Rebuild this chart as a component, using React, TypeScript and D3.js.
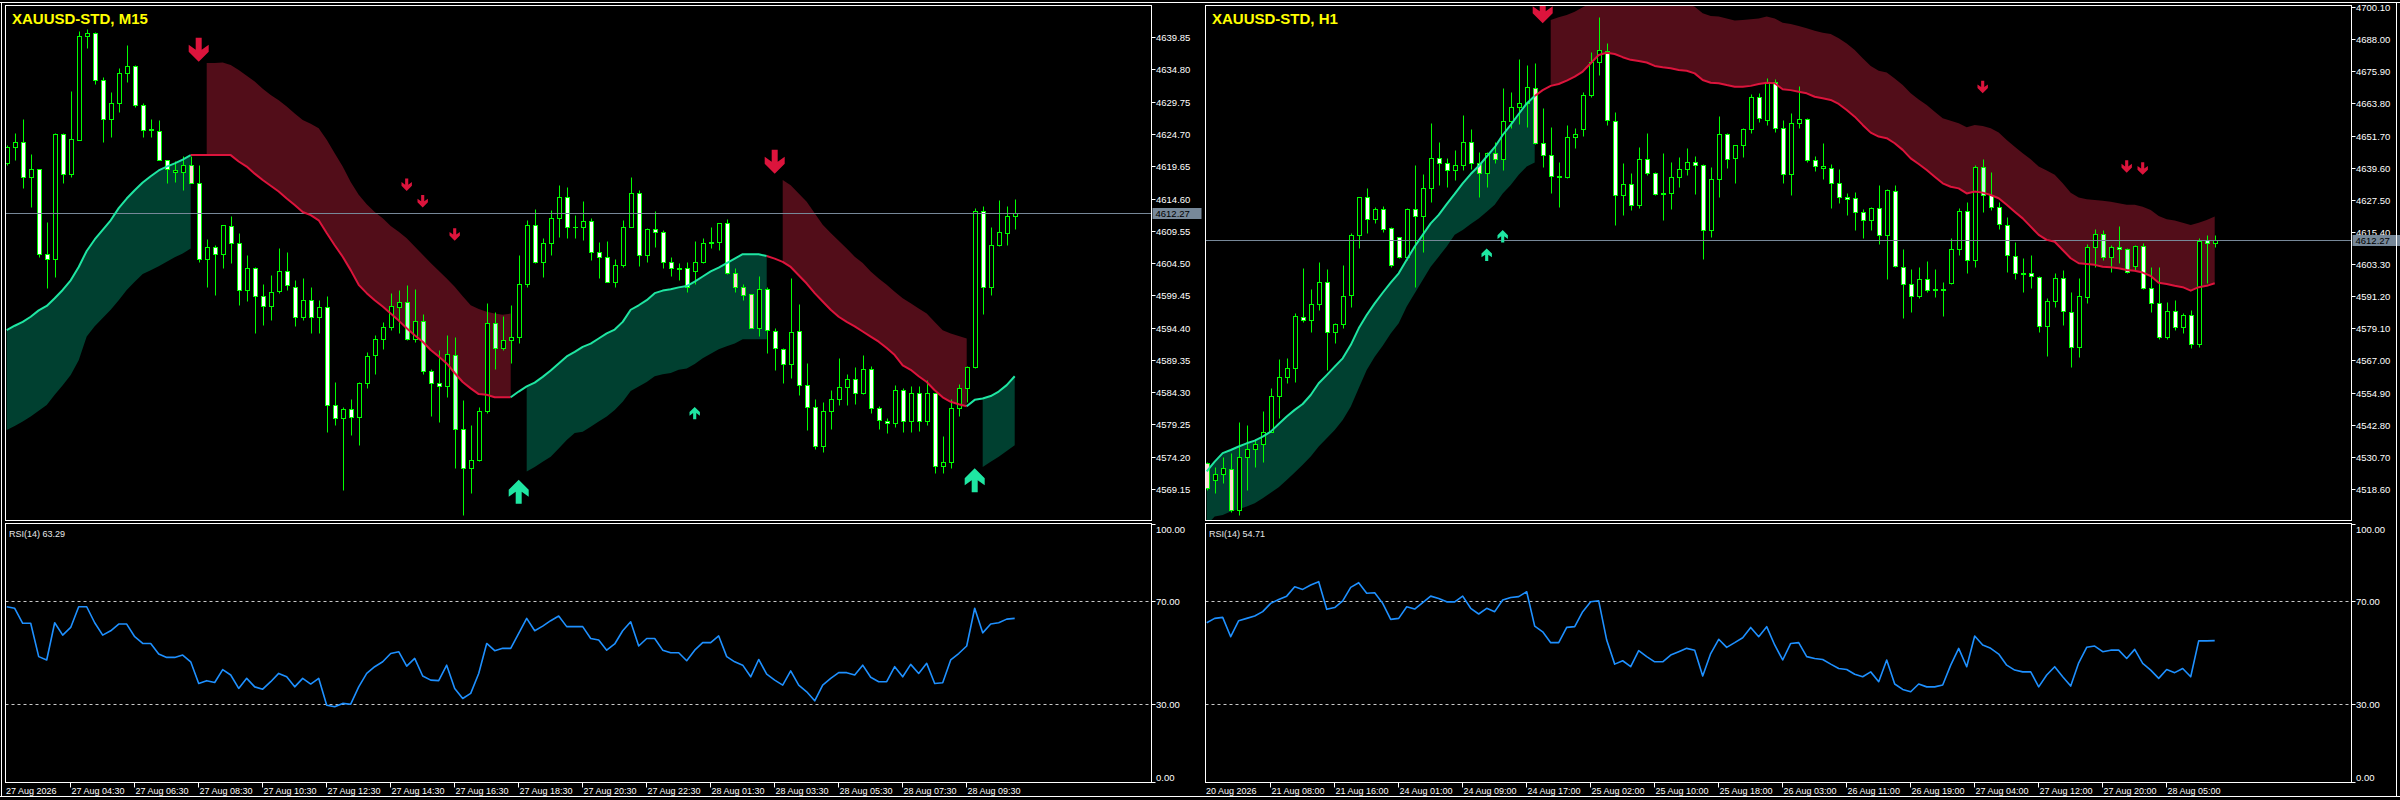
import React from "react";
import * as d3 from "d3";

// ---------- M15 window ----------
const m15Title = "XAUUSD-STD, M15";
// [open, high, low, close]
const m15Candles: [number, number, number, number][] = [
  [4620.1, 4623.0, 4619.9, 4622.7], [4622.6, 4624.8, 4620.6, 4623.5], [4623.5, 4627.0, 4616.2, 4617.9], [4617.9, 4621.6, 4613.3, 4619.2],
  [4619.2, 4619.3, 4605.4, 4606.0], [4606.0, 4611.0, 4600.6, 4605.1], [4605.1, 4624.8, 4602.4, 4624.7], [4624.7, 4624.8, 4617.0, 4618.5],
  [4618.5, 4631.5, 4618.0, 4623.9], [4623.8, 4640.8, 4623.7, 4640.0], [4640.0, 4641.1, 4638.1, 4640.5], [4640.5, 4640.7, 4632.6, 4633.1],
  [4633.1, 4633.7, 4623.5, 4627.1], [4627.1, 4631.2, 4624.2, 4629.5], [4629.5, 4635.0, 4628.2, 4634.2], [4634.2, 4638.6, 4632.9, 4635.3],
  [4635.3, 4635.5, 4629.0, 4629.2], [4629.2, 4629.5, 4624.3, 4625.4], [4625.3, 4627.1, 4624.3, 4625.5], [4625.2, 4626.9, 4620.6, 4620.7],
  [4620.6, 4620.7, 4617.1, 4619.3], [4618.8, 4620.4, 4617.2, 4619.0], [4618.7, 4621.2, 4615.9, 4619.9], [4619.9, 4621.2, 4617.0, 4617.1],
  [4617.1, 4619.9, 4604.7, 4605.2], [4605.2, 4608.2, 4600.8, 4607.0], [4607.0, 4607.3, 4599.5, 4605.9], [4605.9, 4610.5, 4603.7, 4610.4],
  [4610.3, 4611.8, 4604.5, 4607.6], [4607.6, 4609.2, 4597.9, 4600.3], [4600.3, 4605.8, 4598.5, 4603.8], [4603.8, 4603.9, 4593.5, 4599.4],
  [4599.4, 4601.3, 4594.8, 4597.8], [4597.8, 4602.6, 4595.6, 4600.0], [4600.2, 4606.8, 4599.8, 4603.2], [4603.2, 4606.3, 4600.3, 4601.1],
  [4600.8, 4601.9, 4594.6, 4596.1], [4596.0, 4602.1, 4595.6, 4598.8], [4598.8, 4600.7, 4593.5, 4596.0], [4596.0, 4598.7, 4593.5, 4597.7],
  [4597.7, 4599.3, 4578.1, 4582.3], [4582.3, 4585.9, 4579.2, 4580.2], [4580.2, 4582.0, 4569.0, 4581.6], [4581.6, 4583.3, 4577.6, 4580.4],
  [4580.4, 4585.9, 4576.0, 4585.7], [4585.7, 4590.6, 4584.9, 4589.9], [4590.1, 4593.3, 4587.2, 4592.6], [4592.6, 4595.3, 4591.0, 4594.5],
  [4594.5, 4599.8, 4594.0, 4597.8], [4597.6, 4600.3, 4593.5, 4598.4], [4598.4, 4601.1, 4592.5, 4592.7], [4592.7, 4600.5, 4592.2, 4595.5],
  [4595.5, 4596.6, 4587.2, 4587.6], [4587.6, 4588.0, 4580.5, 4585.8], [4585.8, 4590.9, 4579.7, 4585.3], [4585.2, 4593.3, 4583.6, 4590.2],
  [4590.1, 4593.0, 4572.4, 4578.6], [4578.6, 4583.1, 4565.1, 4572.4], [4572.4, 4579.2, 4568.5, 4573.7], [4573.7, 4582.0, 4573.6, 4581.3],
  [4581.3, 4598.2, 4581.0, 4595.2], [4595.2, 4596.9, 4588.0, 4591.2], [4591.2, 4596.2, 4590.9, 4592.5], [4592.5, 4597.9, 4588.8, 4592.9],
  [4592.9, 4605.8, 4592.0, 4601.2], [4601.2, 4611.2, 4600.8, 4610.4], [4610.4, 4613.0, 4604.5, 4604.6], [4604.6, 4608.4, 4602.4, 4607.6],
  [4607.6, 4612.8, 4605.8, 4611.5], [4611.5, 4616.7, 4608.6, 4614.9], [4614.8, 4616.4, 4608.5, 4610.1], [4610.1, 4612.0, 4608.4, 4610.2],
  [4610.2, 4614.2, 4608.1, 4611.1], [4611.1, 4611.5, 4605.0, 4606.3], [4606.3, 4607.8, 4602.1, 4605.5], [4605.5, 4608.0, 4601.5, 4601.6],
  [4601.6, 4605.1, 4600.8, 4604.2], [4604.2, 4611.2, 4603.9, 4610.2], [4610.2, 4617.9, 4610.1, 4615.5], [4615.5, 4616.0, 4604.0, 4605.7],
  [4605.7, 4610.0, 4604.7, 4609.8], [4609.8, 4612.7, 4607.0, 4609.3], [4609.3, 4609.7, 4603.7, 4604.7], [4604.7, 4605.4, 4602.5, 4603.7],
  [4603.7, 4604.5, 4601.9, 4603.5], [4603.7, 4604.6, 4599.9, 4600.7], [4603.2, 4608.0, 4601.3, 4604.7], [4604.7, 4608.4, 4604.5, 4607.6],
  [4607.6, 4610.1, 4606.8, 4607.8], [4607.8, 4610.8, 4606.6, 4610.7], [4610.7, 4611.4, 4602.8, 4602.9], [4602.9, 4603.7, 4600.0, 4600.8],
  [4600.8, 4601.2, 4598.7, 4599.5], [4599.6, 4599.7, 4594.3, 4594.4], [4594.4, 4602.5, 4593.1, 4600.5], [4600.5, 4600.7, 4590.5, 4594.0],
  [4593.9, 4594.3, 4587.8, 4591.2], [4591.0, 4591.2, 4585.7, 4588.7], [4588.7, 4602.1, 4586.5, 4593.7], [4593.8, 4598.1, 4583.9, 4585.5],
  [4585.5, 4588.9, 4578.4, 4582.0], [4582.0, 4583.2, 4575.4, 4575.9], [4575.9, 4582.7, 4575.0, 4581.3], [4581.3, 4584.7, 4578.6, 4583.3],
  [4583.3, 4589.6, 4582.3, 4585.1], [4585.1, 4587.2, 4582.3, 4586.3], [4586.3, 4588.3, 4582.5, 4584.1], [4584.1, 4590.1, 4584.0, 4587.9],
  [4587.9, 4588.4, 4581.0, 4581.9], [4581.9, 4582.1, 4578.6, 4579.9], [4579.8, 4580.3, 4577.9, 4579.4], [4579.4, 4585.4, 4578.8, 4584.7],
  [4584.7, 4584.9, 4578.1, 4579.8], [4579.8, 4585.3, 4578.1, 4584.2], [4584.2, 4585.3, 4578.3, 4579.8], [4579.8, 4586.2, 4579.2, 4584.1],
  [4584.1, 4584.2, 4571.6, 4572.7], [4572.7, 4577.4, 4571.7, 4573.3], [4573.3, 4583.3, 4572.4, 4581.8], [4581.8, 4585.6, 4580.6, 4584.9],
  [4584.9, 4588.4, 4582.8, 4588.2], [4588.2, 4613.2, 4588.1, 4612.6], [4612.6, 4613.4, 4596.6, 4600.7], [4600.7, 4610.1, 4599.5, 4607.4],
  [4607.4, 4614.4, 4607.1, 4609.3], [4609.2, 4613.4, 4607.3, 4611.9], [4611.8, 4614.5, 4609.8, 4612.3],
];
const m15PinkBodies = [23, 91, 92, 93];
const m15CyanBodies = [50, 52, 56, 61];

const m15TrendLine = [
  4594.0, 4594.7, 4595.3, 4596.1, 4597.1, 4597.8, 4599.0, 4600.3, 4601.8, 4603.9, 4606.4, 4608.2, 4609.7, 4611.2, 4613.1, 4614.6,
  4615.9, 4617.1, 4618.1, 4619.0, 4619.6, 4620.1, 4620.7, 4621.4,
  4621.4, 4621.4, 4621.4, 4621.4, 4621.4, 4620.4, 4619.6, 4618.5, 4617.5, 4616.6, 4615.7, 4614.6, 4613.6, 4612.5, 4612.0, 4611.2,
  4609.2, 4607.3, 4605.5, 4603.4, 4601.1, 4599.8, 4598.7, 4597.7, 4596.6, 4595.5, 4594.3, 4593.2, 4592.2, 4590.9, 4589.9, 4588.8,
  4587.3, 4585.9, 4584.9, 4584.0, 4583.9, 4583.5, 4583.5, 4583.5,
  4584.4, 4585.2, 4585.8, 4586.7, 4587.7, 4588.8, 4589.9, 4590.6, 4591.4, 4591.9, 4592.7, 4593.5, 4594.1, 4595.3, 4597.2, 4597.9,
  4598.7, 4599.8, 4600.2, 4600.4, 4600.7, 4600.9, 4601.6, 4602.4, 4603.2, 4603.8, 4604.5, 4605.2, 4605.9, 4605.9, 4605.9, 4605.6,
  4605.2, 4604.7, 4603.9, 4602.6, 4601.3, 4599.8, 4598.5, 4597.2, 4596.1, 4595.3, 4594.6, 4593.8, 4593.0, 4592.2, 4591.2, 4590.1,
  4588.5, 4587.8, 4586.8, 4585.9, 4584.6, 4583.5, 4582.8, 4582.4, 4582.1,
  4583.1, 4583.3, 4583.7, 4584.4, 4585.4, 4586.8,
];
// trend direction: 1 = up (green), -1 = down (red), starting at bar "from"
const m15TrendFlips = [
  { from: 0, dir: 1 }, { from: 24, dir: -1 }, { from: 64, dir: 1 }, { from: 96, dir: -1 }, { from: 121, dir: 1 },
];
const m15LowerBand = [
  { from: 0, values: [4578.4, 4579.0, 4579.7, 4580.5, 4581.4, 4582.3, 4583.9, 4585.4, 4587.0, 4589.3, 4593.0, 4594.6, 4595.9, 4597.2, 4598.7, 4600.3, 4601.6, 4602.8, 4603.4, 4604.0, 4604.7, 4605.4, 4606.0, 4606.8] },
  { from: 65, values: [4571.9, 4572.6, 4573.4, 4574.2, 4575.5, 4576.8, 4577.9, 4578.1, 4578.9, 4579.7, 4580.5, 4581.5, 4582.8, 4584.5, 4585.2, 4585.9, 4586.8, 4587.1, 4587.3, 4587.8, 4588.0, 4588.7, 4589.6, 4590.3, 4591.0, 4591.5, 4591.9, 4592.6, 4592.6, 4592.6, 4592.6] },
  { from: 122, values: [4572.6, 4573.4, 4574.2, 4575.1, 4576.0] },
];
const m15UpperBand = [
  { from: 25, values: [4635.8, 4635.8, 4635.9, 4635.5, 4634.7, 4633.8, 4632.9, 4631.8, 4630.8, 4630.0, 4629.0, 4627.9, 4626.9, 4626.3, 4625.6, 4623.8, 4621.7, 4619.6, 4617.2, 4615.2, 4613.7, 4612.5, 4611.5, 4610.3, 4609.4, 4608.4, 4607.1, 4605.8, 4604.5, 4603.3, 4602.1, 4600.8, 4599.3, 4597.9, 4597.3, 4596.9, 4596.6, 4596.4, 4596.6] },
  { from: 97, values: [4617.5, 4616.7, 4615.4, 4614.1, 4612.3, 4610.5, 4609.2, 4608.0, 4606.8, 4605.5, 4604.5, 4603.2, 4602.1, 4601.1, 4600.0, 4599.0, 4598.2, 4597.4, 4596.6, 4595.3, 4594.0, 4593.5, 4593.1, 4592.7] },
];
const m15Arrows = [
  { i: 24, price: 4636.0, dir: -1, big: true }, { i: 64, price: 4570.6, dir: 1, big: true },
  { i: 96, price: 4618.5, dir: -1, big: true }, { i: 121, price: 4572.4, dir: 1, big: true },
  { i: 50, price: 4615.8, dir: -1, big: false }, { i: 52, price: 4613.2, dir: -1, big: false },
  { i: 56, price: 4608.0, dir: -1, big: false }, { i: 86, price: 4582.0, dir: 1, big: false },
];
const m15Rsi = [
  67.8, 67.2, 61.4, 61.4, 48.5, 47.2, 61.6, 56.8, 59.8, 67.8,
  67.8, 61.6, 56.8, 58.5, 61.1, 61.1, 56.2, 53.6, 53.6, 49.5,
  48.2, 48.2, 49.1, 46.5, 38.1, 39.2, 38.5, 43.5, 41.4, 36.2,
  40.1, 36.8, 35.9, 38.8, 42.0, 40.7, 36.8, 40.1, 37.9, 40.1,
  29.7, 29.1, 30.4, 30.1, 36.8, 42.0, 44.6, 46.5, 49.7, 50.4,
  44.8, 47.8, 41.0, 39.4, 39.2, 45.2, 36.2, 32.3, 34.3, 42.0,
  53.6, 50.8, 51.7, 51.7, 57.5, 63.3, 58.5, 60.3, 62.4, 64.2,
  60.1, 60.1, 60.1, 55.5, 54.9, 51.0, 53.4, 58.5, 62.0, 52.6,
  55.5, 55.5, 51.0, 50.0, 50.0, 46.9, 51.0, 53.9, 53.9, 56.5,
  48.5, 46.5, 45.2, 40.7, 47.4, 41.7, 39.4, 37.5, 43.0, 37.5,
  34.9, 31.4, 37.5, 40.1, 42.3, 42.3, 41.4, 45.2, 40.5, 38.8,
  38.8, 44.6, 40.7, 45.5, 42.0, 45.9, 38.1, 38.4, 47.2, 49.7,
  52.6, 67.2, 57.7, 61.1, 61.6, 63.0, 63.3,
];
const m15RsiLabel = "RSI(14) 63.29";
const m15PriceTicks = [4639.85, 4634.80, 4629.75, 4624.70, 4619.65, 4614.60, 4609.55, 4604.50, 4599.45, 4594.40, 4589.35, 4584.30, 4579.25, 4574.20, 4569.15];
const m15TimeLabels = [
  "27 Aug 2026", "27 Aug 04:30", "27 Aug 06:30", "27 Aug 08:30", "27 Aug 10:30", "27 Aug 12:30", "27 Aug 14:30", "27 Aug 16:30",
  "27 Aug 18:30", "27 Aug 20:30", "27 Aug 22:30", "28 Aug 01:30", "28 Aug 03:30", "28 Aug 05:30", "28 Aug 07:30", "28 Aug 09:30",
];

// ---------- H1 window ----------
const h1Title = "XAUUSD-STD, H1";
const h1Candles: [number, number, number, number][] = [
  [4528.3, 4528.9, 4518.3, 4518.9], [4522.0, 4527.0, 4517.0, 4524.3], [4524.3, 4530.8, 4520.8, 4526.4], [4526.0, 4532.1, 4510.1, 4510.7],
  [4510.7, 4544.0, 4508.8, 4530.6], [4530.6, 4542.7, 4518.3, 4533.6], [4533.6, 4537.3, 4527.0, 4535.6], [4535.6, 4548.1, 4528.9, 4540.2],
  [4540.2, 4556.5, 4540.1, 4553.6], [4553.6, 4567.5, 4545.2, 4560.7], [4560.7, 4567.8, 4558.4, 4564.1], [4564.1, 4584.8, 4559.0, 4583.8],
  [4583.5, 4601.7, 4581.6, 4582.3], [4582.3, 4593.8, 4577.9, 4588.2], [4588.2, 4604.2, 4586.0, 4596.7], [4596.7, 4601.3, 4563.4, 4577.9],
  [4577.9, 4581.0, 4573.5, 4580.6], [4580.6, 4603.0, 4579.1, 4591.3], [4591.7, 4614.9, 4587.3, 4614.3], [4614.3, 4628.7, 4609.2, 4628.4],
  [4628.4, 4631.8, 4614.9, 4620.2], [4620.2, 4624.9, 4618.9, 4623.9], [4623.9, 4625.2, 4615.5, 4616.4], [4616.8, 4617.4, 4602.3, 4603.0],
  [4613.4, 4613.5, 4605.5, 4605.9], [4605.9, 4624.3, 4604.9, 4623.9], [4623.9, 4640.6, 4594.8, 4621.4], [4621.4, 4637.2, 4608.0, 4631.8],
  [4631.8, 4656.3, 4626.8, 4643.1], [4643.1, 4649.4, 4633.1, 4641.2], [4641.2, 4643.1, 4632.4, 4638.7], [4638.7, 4646.3, 4635.0, 4640.6],
  [4640.6, 4659.4, 4638.7, 4649.4], [4649.4, 4654.0, 4639.0, 4641.5], [4641.5, 4645.6, 4628.7, 4637.7], [4637.5, 4645.6, 4632.4, 4645.3],
  [4645.3, 4649.4, 4641.2, 4642.8], [4642.8, 4669.5, 4638.7, 4657.3], [4657.3, 4668.2, 4654.4, 4662.3], [4662.3, 4680.4, 4656.1, 4664.1],
  [4664.1, 4678.3, 4655.0, 4669.9], [4669.5, 4679.1, 4648.6, 4648.8], [4648.8, 4661.9, 4640.0, 4644.4], [4644.4, 4655.0, 4629.9, 4636.5],
  [4636.5, 4641.9, 4624.7, 4636.2], [4636.0, 4655.7, 4635.6, 4651.3], [4651.3, 4654.4, 4646.9, 4652.3], [4654.0, 4668.2, 4651.5, 4667.0],
  [4667.0, 4683.3, 4666.3, 4679.5], [4679.3, 4696.5, 4674.5, 4683.9], [4683.7, 4686.4, 4655.7, 4657.6], [4657.3, 4660.7, 4618.0, 4629.3],
  [4629.3, 4641.2, 4621.8, 4633.5], [4633.5, 4637.5, 4623.7, 4625.6], [4625.6, 4647.5, 4624.3, 4642.8], [4642.8, 4652.8, 4636.9, 4637.7],
  [4637.7, 4638.1, 4629.3, 4629.7], [4629.7, 4645.0, 4619.9, 4629.9], [4629.9, 4641.9, 4623.9, 4636.0], [4636.0, 4643.8, 4632.4, 4639.0],
  [4639.0, 4646.9, 4636.9, 4641.9], [4641.9, 4644.0, 4629.7, 4640.6], [4640.6, 4641.0, 4605.1, 4616.1], [4616.1, 4639.7, 4613.4, 4635.2],
  [4635.2, 4659.1, 4628.7, 4652.2], [4652.2, 4652.8, 4639.4, 4642.8], [4643.1, 4648.3, 4633.7, 4648.2], [4648.2, 4654.4, 4643.8, 4654.0],
  [4654.0, 4667.4, 4652.8, 4666.3], [4666.3, 4667.6, 4656.9, 4658.2], [4657.6, 4673.2, 4655.7, 4672.0], [4672.0, 4672.9, 4653.2, 4654.4],
  [4654.4, 4657.6, 4634.0, 4637.2], [4637.2, 4660.3, 4629.3, 4656.6], [4656.6, 4670.4, 4654.4, 4657.8], [4657.8, 4658.2, 4641.9, 4642.5],
  [4642.3, 4644.0, 4638.5, 4640.2], [4639.4, 4649.0, 4635.2, 4640.2], [4639.4, 4641.0, 4624.3, 4633.7], [4633.7, 4639.0, 4626.2, 4628.4],
  [4628.4, 4630.2, 4621.8, 4627.7], [4628.1, 4630.6, 4616.1, 4622.9], [4622.9, 4623.9, 4613.0, 4619.9], [4619.9, 4624.7, 4616.1, 4624.3],
  [4624.3, 4633.1, 4610.9, 4614.3], [4614.3, 4631.5, 4597.6, 4631.2], [4631.0, 4633.1, 4602.3, 4602.6], [4602.3, 4608.9, 4582.9, 4595.8],
  [4595.7, 4601.3, 4585.4, 4591.3], [4591.3, 4602.3, 4590.4, 4597.6], [4597.6, 4604.5, 4592.6, 4593.6], [4593.6, 4601.3, 4590.8, 4593.8],
  [4593.8, 4596.7, 4583.8, 4593.6], [4596.1, 4613.0, 4595.8, 4608.9], [4608.9, 4624.3, 4606.7, 4623.3], [4623.3, 4626.8, 4600.1, 4604.9],
  [4604.9, 4640.6, 4602.3, 4639.7], [4639.7, 4642.8, 4623.0, 4629.3], [4629.3, 4638.1, 4623.7, 4624.9], [4624.9, 4626.8, 4616.4, 4618.4],
  [4618.0, 4621.2, 4600.5, 4606.7], [4606.5, 4611.7, 4597.6, 4599.8], [4599.8, 4605.5, 4592.9, 4599.6], [4599.8, 4606.7, 4594.2, 4598.8],
  [4598.6, 4598.8, 4577.9, 4580.0], [4580.0, 4590.4, 4568.7, 4589.5], [4589.5, 4600.1, 4587.3, 4597.9], [4597.9, 4601.1, 4580.4, 4585.8],
  [4585.4, 4592.9, 4564.7, 4572.0], [4572.0, 4597.9, 4568.2, 4591.3], [4590.8, 4610.9, 4588.5, 4609.9], [4609.9, 4616.4, 4602.3, 4614.5],
  [4614.5, 4616.1, 4604.9, 4606.1], [4606.1, 4610.6, 4600.5, 4609.9], [4609.9, 4617.7, 4603.6, 4608.9], [4608.9, 4609.2, 4599.8, 4600.5],
  [4602.7, 4610.6, 4601.1, 4610.2], [4610.2, 4611.1, 4593.8, 4594.2], [4594.2, 4602.3, 4585.4, 4588.5], [4588.5, 4602.3, 4575.0, 4575.7],
  [4575.7, 4589.2, 4575.0, 4585.8], [4585.8, 4589.8, 4578.5, 4579.5], [4579.5, 4585.0, 4577.5, 4584.1], [4584.1, 4586.0, 4571.6, 4573.2],
  [4573.2, 4613.0, 4572.2, 4612.1], [4612.4, 4614.3, 4596.1, 4611.4], [4611.4, 4614.3, 4609.6, 4612.3],
];
const h1PinkBodies = [0, 3, 34, 36, 41];
const h1CyanBodies = [97, 112, 114, 115, 125];

const h1TrendLine = [
  4525.2, 4528.9, 4532.1, 4533.3, 4534.6, 4535.8, 4536.8, 4538.3, 4540.2, 4543.1, 4545.9, 4548.4, 4550.6, 4554.0, 4558.4, 4561.5,
  4564.7, 4567.8, 4572.8, 4579.1, 4584.1, 4588.5, 4592.5, 4596.3, 4599.8, 4604.9, 4609.9, 4614.3, 4618.6, 4621.8, 4625.9, 4629.7,
  4633.7, 4637.2, 4640.2, 4643.8, 4647.3, 4651.9, 4655.7, 4659.8, 4663.8, 4666.6,
  4668.8, 4670.4, 4671.1, 4672.4, 4673.9, 4675.8, 4678.9, 4682.0, 4682.9, 4682.4, 4681.2, 4680.2, 4679.8, 4679.2, 4677.9, 4677.4,
  4677.0, 4676.4, 4676.1, 4675.1, 4672.6, 4671.6, 4671.4, 4670.7, 4670.1, 4670.1, 4670.4, 4671.1, 4671.6, 4671.4, 4669.1, 4668.8,
  4668.2, 4667.6, 4666.3, 4665.7, 4665.1, 4663.6, 4661.3, 4658.8, 4655.7, 4652.8, 4651.3, 4650.7, 4648.8, 4646.3, 4643.1, 4641.0,
  4638.7, 4636.2, 4633.7, 4632.4, 4631.8, 4629.9, 4630.6, 4630.2, 4629.3, 4628.1, 4625.6, 4623.0, 4620.5, 4617.4, 4614.3, 4612.4,
  4611.7, 4608.6, 4605.5, 4603.6, 4603.3, 4603.0, 4602.3, 4602.1, 4601.7, 4601.1, 4600.8, 4600.1, 4598.8, 4596.3, 4595.8, 4595.1,
  4594.6, 4593.3, 4594.6, 4595.1, 4596.1,
];
const h1TrendFlips = [{ from: 0, dir: 1 }, { from: 42, dir: -1 }];
const h1LowerBand = [
  { from: 0, values: [4505.1, 4508.2, 4508.8, 4510.1, 4511.0, 4512.0, 4513.2, 4515.1, 4517.2, 4519.3, 4522.0, 4524.8, 4527.7, 4530.8, 4534.6, 4537.7, 4540.8, 4544.6, 4549.6, 4556.5, 4563.4, 4568.4, 4572.5, 4577.2, 4581.0, 4587.3, 4592.3, 4597.3, 4602.3, 4606.1, 4609.9, 4614.3, 4616.1, 4618.4, 4620.5, 4623.0, 4625.6, 4629.9, 4633.1, 4636.9, 4640.0, 4641.5] },
];
const h1UpperBand = [
  { from: 43, values: [
    4695.2, 4696.2, 4697.1, 4698.3, 4700.0, 4701.5, 4702.7, 4703.7, 4704.0, 4704.3, 4704.3, 4704.0, 4703.7, 4703.4, 4703.0, 4702.7,
    4702.1, 4701.5, 4700.2, 4697.7, 4696.7, 4696.5, 4695.8, 4695.0, 4695.2, 4695.5, 4695.8, 4696.5, 4695.8, 4694.2, 4693.7, 4692.9,
    4692.1, 4691.2, 4690.4, 4689.9, 4688.3, 4686.4, 4683.9, 4680.8, 4677.9, 4676.1, 4675.4, 4673.2, 4670.7, 4667.6, 4665.3, 4663.2,
    4660.7, 4658.2, 4657.3, 4656.3, 4654.8, 4655.7, 4655.3, 4654.4, 4652.8, 4650.0, 4647.5, 4645.0, 4642.8, 4640.0, 4638.5, 4636.9,
    4633.7, 4630.2, 4628.4, 4627.7, 4627.4, 4627.1, 4626.8, 4626.2, 4625.6, 4625.6, 4624.9, 4623.7, 4621.4, 4620.2, 4619.7, 4618.9,
    4618.0, 4618.9, 4619.9, 4621.2,
  ] },
];
const h1Arrows = [
  { i: 42, price: 4694.0, dir: -1, big: true },
  { i: 35, price: 4609.2, dir: 1, big: false }, { i: 37, price: 4616.1, dir: 1, big: false },
  { i: 97, price: 4667.6, dir: -1, big: false }, { i: 115, price: 4637.7, dir: -1, big: false },
  { i: 117, price: 4636.9, dir: -1, big: false },
];
const h1Rsi = [
  61.6, 63.3, 63.7, 56.2, 62.4, 63.3, 64.2, 65.9, 69.1, 70.6,
  71.9, 75.5, 74.5, 76.2, 77.5, 66.8, 67.5, 70.1, 75.3, 77.1,
  73.0, 73.2, 69.1, 62.9, 63.3, 67.8, 66.9, 69.4, 71.9, 71.0,
  69.7, 69.7, 71.9, 67.2, 65.0, 67.2, 65.9, 70.4, 71.4, 71.7,
  73.6, 60.3, 58.1, 53.9, 53.9, 59.8, 60.1, 65.9, 69.7, 70.1,
  54.9, 45.6, 46.9, 44.6, 50.8, 48.5, 46.5, 46.5, 49.1, 50.4,
  51.7, 51.0, 41.0, 49.7, 55.2, 52.1, 53.9, 55.8, 59.8, 56.2,
  60.1, 53.0, 47.2, 53.6, 53.9, 48.5, 47.8, 47.4, 45.6, 43.9,
  43.5, 41.7, 40.7, 42.6, 38.8, 47.2, 37.9, 35.8, 34.9, 37.9,
  36.8, 36.8, 37.5, 45.2, 51.7, 44.6, 56.5, 53.0, 51.7, 49.5,
  45.2, 43.3, 42.6, 42.6, 36.8, 41.4, 44.6, 40.7, 37.1, 46.1,
  52.1, 52.6, 50.4, 51.0, 51.0, 47.8, 51.3, 45.9, 43.3, 40.1,
  43.5, 42.3, 43.9, 40.7, 54.6, 54.6, 54.7,
];
const h1RsiLabel = "RSI(14) 54.71";
const h1PriceTicks = [4700.10, 4688.00, 4675.90, 4663.80, 4651.70, 4639.60, 4627.50, 4615.40, 4603.30, 4591.20, 4579.10, 4567.00, 4554.90, 4542.80, 4530.70, 4518.60];
const h1TimeLabels = [
  "20 Aug 2026", "21 Aug 08:00", "21 Aug 16:00", "24 Aug 01:00", "24 Aug 09:00", "24 Aug 17:00", "25 Aug 02:00", "25 Aug 10:00",
  "25 Aug 18:00", "26 Aug 03:00", "26 Aug 11:00", "26 Aug 19:00", "27 Aug 04:00", "27 Aug 12:00", "27 Aug 20:00", "28 Aug 05:00",
];

const bidPrice = 4612.27;
const rsiLevels = [70, 30];
const rsiAxisTicks = [100, 70, 30, 0];

// ---------- layout ----------
const W = 2400;
const H = 800;
const CHART_L = 5.5;
const CHART_R = 1151.5;
const MAIN_T = 5.5;
const MAIN_B = 520.5;
const RSI_T = 523.5;
const RSI_B = 782.5;
const FONT = "'Liberation Sans', Arial, sans-serif";
const UP = "#1fe6a2";
const DOWN = "#dc143c";
const CANDLE = "#00ff00";

type Seg = { from: number; values: number[] };

function expand(segs: Seg[], n: number): (number | null)[] {
  const out: (number | null)[] = new Array(n).fill(null);
  segs.forEach((s) => s.values.forEach((v, k) => { out[s.from + k] = v; }));
  return out;
}

function trendOf(flips: { from: number; dir: number }[], n: number) {
  const out: number[] = [];
  for (let i = 0; i < n; i++) {
    let d = flips[0].dir;
    flips.forEach((f) => { if (i >= f.from) d = f.dir; });
    out.push(d);
  }
  return out;
}

// chevron arrow, tip at (0,0), pointing down
const ARROW_SHAPE = [[-3, -24], [3, -24], [3, -12], [10, -17], [10, -10], [0, 0], [-10, -10], [-10, -17], [-3, -12]];

function arrowPath(cx: number, cy: number, dir: number, s: number) {
  return "M" + ARROW_SHAPE.map(([px, py]) => `${cx + px * s},${cy + (dir < 0 ? py : -py) * s}`).join("L") + "Z";
}

type PanelProps = {
  id: string;
  offset: number;
  title: string;
  candles: [number, number, number, number][];
  pink: number[];
  cyan: number[];
  trendLine: number[];
  flips: { from: number; dir: number }[];
  lowerBand: Seg[];
  upperBand: Seg[];
  arrows: { i: number; price: number; dir: number; big: boolean }[];
  rsi: number[];
  rsiLabel: string;
  priceTicks: number[];
  topTickY: number;
  timeLabels: string[];
};

function Panel(p: PanelProps) {
  const n = p.candles.length;
  const x = d3.scaleLinear().domain([0, n - 1]).range([6.7, 6.7 + 8 * (n - 1)]);
  const [lo, hi] = d3.extent(p.priceTicks) as [number, number];
  const y = d3.scaleLinear().domain([lo, hi]).range([489, p.topTickY]);
  const yr = d3.scaleLinear().domain([0, 100]).range([RSI_B - 0.5, RSI_T]);

  const trend = trendOf(p.flips, n);
  const lower = expand(p.lowerBand, n);
  const upper = expand(p.upperBand, n);
  const idx = d3.range(n);

  const bandArea = (band: (number | null)[]) =>
    d3.area<number>()
      .defined((i) => band[i] != null)
      .x((i) => x(i))
      .y0((i) => y(p.trendLine[i]))
      .y1((i) => y(band[i] as number))(idx) || "";

  const runs: { dir: number; ids: number[] }[] = [];
  let s = 0;
  for (let i = 1; i <= n; i++) {
    if (i === n || trend[i] !== trend[s]) {
      runs.push({ dir: trend[s], ids: d3.range(Math.max(0, s - 1), i) });
      s = i;
    }
  }
  const lineGen = d3.line<number>().x((i) => x(i)).y((i) => y(p.trendLine[i]));
  const rsiLine = d3.line<number>().x((_, i) => x(i)).y((v) => yr(v));

  const bidY = Math.round(y(bidPrice)) + 0.5;
  const crisp = (v: number) => Math.round(v) + 0.5;

  return (
    <g transform={`translate(${p.offset},0)`}>
      <defs>
        <clipPath id={`${p.id}-main`}>
          <rect x={CHART_L} y={MAIN_T} width={CHART_R - CHART_L} height={MAIN_B - MAIN_T} />
        </clipPath>
        <clipPath id={`${p.id}-rsi`}>
          <rect x={CHART_L} y={RSI_T} width={CHART_R - CHART_L} height={RSI_B - RSI_T} />
        </clipPath>
      </defs>

      <g clipPath={`url(#${p.id}-main)`}>
        <path d={bandArea(lower)} fill="#004030" />
        <path d={bandArea(upper)} fill="#520d19" />

        {p.candles.map(([o, h, l, c], i) => {
          const cx = Math.round(x(i));
          const top = crisp(y(Math.max(o, c)));
          const bot = crisp(y(Math.min(o, c)));
          const fill = p.pink.includes(i) ? "#ffd6d6" : p.cyan.includes(i) ? "#c6f7df" : c >= o ? "#000000" : "#ffffff";
          return (
            <g key={i}>
              <line x1={cx + 0.5} x2={cx + 0.5} y1={crisp(y(h))} y2={crisp(y(l))} stroke={CANDLE} strokeWidth={1} />
              {bot - top >= 1 ? (
                <rect x={cx - 1.5} y={top} width={4} height={bot - top} fill={fill} stroke={CANDLE} strokeWidth={1} />
              ) : (
                <line x1={cx - 2} x2={cx + 3} y1={top} y2={top} stroke={CANDLE} strokeWidth={1} />
              )}
            </g>
          );
        })}

        <line x1={CHART_L} x2={CHART_R} y1={bidY} y2={bidY} stroke="#778899" strokeWidth={1} />

        {runs.map((r, k) => (
          <path key={k} d={lineGen(r.ids) || ""} fill="none" stroke={r.dir > 0 ? UP : DOWN} strokeWidth={2} strokeLinejoin="round" />
        ))}

        {p.arrows.map((a, k) => (
          <path key={k} d={arrowPath(x(a.i), y(a.price), a.dir, a.big ? 1 : 0.52)} fill={a.dir > 0 ? UP : DOWN} />
        ))}
      </g>

      <text x={12} y={24} fontFamily={FONT} fontWeight="bold" fontSize={15} fill="#ffff00">{p.title}</text>

      {/* price axis */}
      {p.priceTicks.map((t) => {
        const ty = crisp(y(t));
        return (
          <g key={t}>
            <line x1={CHART_R} x2={CHART_R + 4} y1={ty} y2={ty} stroke="#ffffff" strokeWidth={1} />
            <text x={CHART_R + 4.5} y={ty + 3.5} fontFamily={FONT} fontSize={9.5} fill="#ffffff">{t.toFixed(2)}</text>
          </g>
        );
      })}
      <rect x={CHART_R + 1} y={bidY - 5.5} width={49} height={11} fill="#778899" />
      <text x={CHART_R + 4} y={bidY + 3.5} fontFamily={FONT} fontSize={9.5} fill="#000000">{bidPrice.toFixed(2)}</text>

      {/* RSI window */}
      {rsiLevels.map((lv) => (
        <line key={lv} x1={CHART_L} x2={CHART_R} y1={crisp(yr(lv))} y2={crisp(yr(lv))} stroke="#c8c8c8" strokeWidth={1} strokeDasharray="3 3" />
      ))}
      <g clipPath={`url(#${p.id}-rsi)`}>
        <path d={rsiLine(p.rsi) || ""} fill="none" stroke="#1e90ff" strokeWidth={1.6} strokeLinejoin="round" />
      </g>
      <text x={9} y={537} fontFamily={FONT} fontSize={9} fill="#e8e8e8">{p.rsiLabel}</text>
      {rsiAxisTicks.map((t) => {
        const ty = crisp(yr(t));
        const ly = t === 100 ? ty + 8 : t === 0 ? ty - 2 : ty + 3.5;
        return (
          <g key={t}>
            <line x1={CHART_R} x2={CHART_R + 4} y1={ty} y2={ty} stroke="#ffffff" strokeWidth={1} />
            <text x={CHART_R + 4.5} y={ly} fontFamily={FONT} fontSize={9.5} fill="#ffffff">{t.toFixed(2)}</text>
          </g>
        );
      })}

      {/* time axis */}
      {p.timeLabels.map((lab, k) => {
        const tx = Math.round(x(k * 8)) - 1;
        return (
          <g key={lab}>
            {k > 0 && <line x1={tx + 0.5} x2={tx + 0.5} y1={RSI_B} y2={RSI_B + 5} stroke="#ffffff" strokeWidth={1} />}
            <text x={k === 0 ? 6 : tx + 1.5} y={794} fontFamily={FONT} fontSize={9} fill="#ffffff">{lab}</text>
          </g>
        );
      })}

      {/* frames */}
      <rect x={CHART_L} y={MAIN_T} width={CHART_R - CHART_L} height={MAIN_B - MAIN_T} fill="none" stroke="#ffffff" strokeWidth={1} />
      <rect x={CHART_L} y={RSI_T} width={CHART_R - CHART_L} height={RSI_B - RSI_T} fill="none" stroke="#ffffff" strokeWidth={1} />
    </g>
  );
}

export default function App() {
  return (
    <svg width={W} height={H} viewBox={`0 0 ${W} ${H}`} style={{ position: "absolute", left: 0, top: 0, display: "block" }}>
      <rect x={0} y={0} width={W} height={H} fill="#000000" />
      <Panel
        id="m15" offset={0} title={m15Title} candles={m15Candles} pink={m15PinkBodies} cyan={m15CyanBodies}
        trendLine={m15TrendLine} flips={m15TrendFlips} lowerBand={m15LowerBand} upperBand={m15UpperBand}
        arrows={m15Arrows} rsi={m15Rsi} rsiLabel={m15RsiLabel} priceTicks={m15PriceTicks} topTickY={37.2}
        timeLabels={m15TimeLabels}
      />
      <Panel
        id="h1" offset={1200} title={h1Title} candles={h1Candles} pink={h1PinkBodies} cyan={h1CyanBodies}
        trendLine={h1TrendLine} flips={h1TrendFlips} lowerBand={h1LowerBand} upperBand={h1UpperBand}
        arrows={h1Arrows} rsi={h1Rsi} rsiLabel={h1RsiLabel} priceTicks={h1PriceTicks} topTickY={7}
        timeLabels={h1TimeLabels}
      />
      {/* window borders */}
      <line x1={0} x2={W} y1={2.5} y2={2.5} stroke="#ffffff" strokeWidth={1} />
      <line x1={1.5} x2={1.5} y1={2} y2={797} stroke="#ffffff" strokeWidth={1} />
      <line x1={2396.5} x2={2396.5} y1={2} y2={797} stroke="#ffffff" strokeWidth={1} />
      <line x1={0} x2={W} y1={796.5} y2={796.5} stroke="#ffffff" strokeWidth={1} />
    </svg>
  );
}
